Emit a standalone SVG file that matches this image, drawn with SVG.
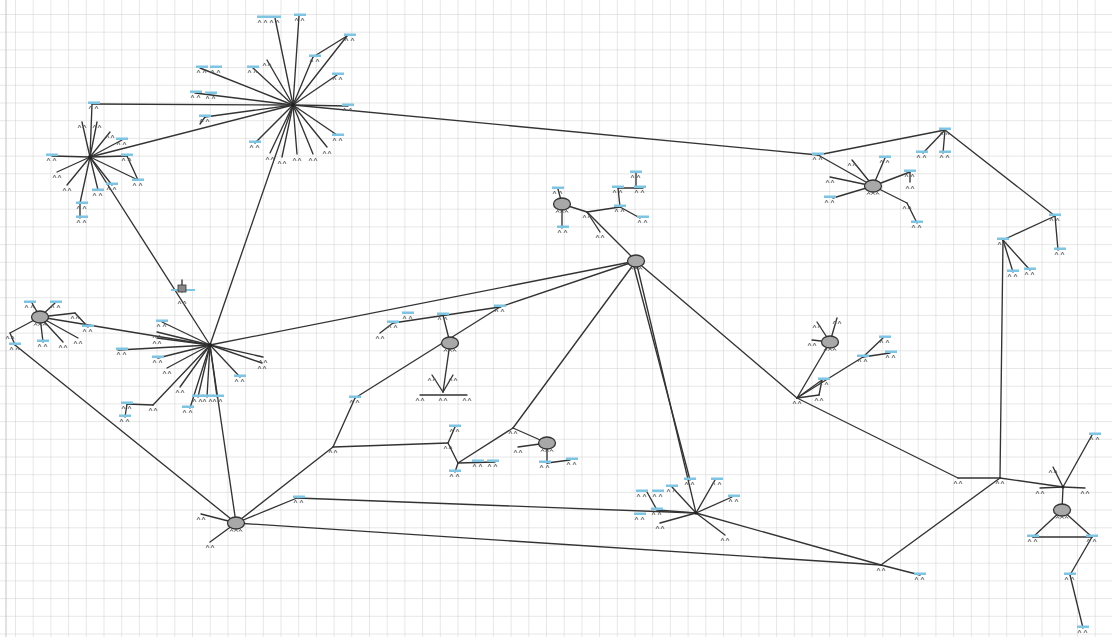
<svg xmlns="http://www.w3.org/2000/svg" xmlns:xlink="http://www.w3.org/1999/xlink" width="1112" height="637" viewBox="0 0 1112 637">
<style>
.c line{stroke:#333333;stroke-width:1.35;stroke-linecap:round}
.hub{fill:#222}
</style>
<defs>
<pattern id="grid" x="15" y="14" width="17.7" height="17.7" patternUnits="userSpaceOnUse">
<path d="M0,0H17.7M0,0V17.7" stroke="#cfcfcf" stroke-width="1" fill="none"/>
</pattern>
<g id="lf"><rect x="-6" y="-1.5" width="12" height="2.5" fill="#7fc4e2"/><path d="M-5,6l1.5-3 1.5,3M1,6l1.5-3 1.5,3" stroke="#555" stroke-width="0.8" fill="none"/></g>
<g id="mk"><path d="M-4,4l1.5-3 1.5,3M1,4l1.5-3 1.5,3" stroke="#555" stroke-width="0.8" fill="none"/></g>
<g id="cl"><ellipse rx="8.5" ry="6" fill="#a8a8a8" stroke="#333" stroke-width="1.3"/><path d="M-6,8.5l1.5-2 1.5,2M-1.5,8.5l1.5-2 1.5,2M3,8.5l1.5-2 1.5,2" stroke="#444" stroke-width="0.9" fill="none"/></g>
</defs>
<rect width="1112" height="637" fill="#ffffff"/>
<rect width="1112" height="637" fill="url(#grid)"/>
<line x1="6" y1="0" x2="6" y2="637" stroke="#c4c4c4"/>
<g id="connectors" class="c">
<line x1="293" y1="105" x2="818" y2="155"/>
<line x1="818" y1="155" x2="945" y2="130"/>
<line x1="945" y1="130" x2="1055" y2="216"/>
<line x1="1055" y1="216" x2="1003" y2="240"/>
<line x1="1003" y1="240" x2="1000" y2="478"/>
<line x1="1000" y1="478" x2="1063" y2="487"/>
<line x1="958" y1="478" x2="1000" y2="478"/>
<line x1="797" y1="398" x2="958" y2="478"/>
<line x1="1000" y1="478" x2="881" y2="565"/>
<line x1="881" y1="565" x2="236" y2="523"/>
<line x1="881" y1="565" x2="696" y2="513"/>
<line x1="696" y1="513" x2="297" y2="498"/>
<line x1="236" y1="523" x2="297" y2="498"/>
<line x1="236" y1="523" x2="210" y2="345"/>
<line x1="236" y1="523" x2="15" y2="345"/>
<line x1="236" y1="523" x2="333" y2="447"/>
<line x1="333" y1="447" x2="355" y2="398"/>
<line x1="333" y1="447" x2="448" y2="443"/>
<line x1="355" y1="398" x2="500" y2="307"/>
<line x1="500" y1="307" x2="636" y2="261"/>
<line x1="500" y1="307" x2="393" y2="323"/>
<line x1="210" y1="345" x2="636" y2="261"/>
<line x1="210" y1="345" x2="293" y2="105"/>
<line x1="210" y1="345" x2="90" y2="157"/>
<line x1="210" y1="345" x2="40" y2="317"/>
<line x1="293" y1="105" x2="90" y2="157"/>
<line x1="293" y1="105" x2="92" y2="104"/>
<line x1="636" y1="261" x2="797" y2="398"/>
<line x1="636" y1="261" x2="696" y2="513"/>
<line x1="633" y1="263" x2="690" y2="480"/>
<line x1="636" y1="261" x2="513" y2="428"/>
<line x1="513" y1="428" x2="547" y2="443"/>
<line x1="513" y1="428" x2="458" y2="463"/>
<line x1="636" y1="261" x2="587" y2="212"/>
<line x1="587" y1="212" x2="562" y2="204"/>
<line x1="587" y1="212" x2="620" y2="207"/>
<line x1="587" y1="212" x2="600" y2="232"/>
<line x1="797" y1="398" x2="830" y2="342"/>
<line x1="1063" y1="487" x2="1062" y2="510"/>
<line x1="1062" y1="510" x2="1033" y2="537"/>
<line x1="1062" y1="510" x2="1092" y2="537"/>
<line x1="1033" y1="537" x2="1092" y2="537"/>
<line x1="1092" y1="537" x2="1070" y2="575"/>
<line x1="1070" y1="575" x2="1083" y2="628"/>
<line x1="881" y1="565" x2="920" y2="575"/>
<line x1="450" y1="343" x2="443" y2="315"/>
<line x1="450" y1="343" x2="443" y2="392"/>
<line x1="818" y1="155" x2="873" y2="186"/>
<line x1="945" y1="130" x2="923" y2="153"/>
<line x1="945" y1="130" x2="943" y2="153"/>
<line x1="1003" y1="240" x2="1013" y2="272"/>
<line x1="1003" y1="240" x2="1030" y2="270"/>
<line x1="1055" y1="216" x2="1058" y2="250"/>
<line x1="293" y1="105" x2="275" y2="18"/>
<line x1="293" y1="105" x2="299" y2="16"/>
<line x1="293" y1="105" x2="347" y2="36"/>
<line x1="293" y1="105" x2="313" y2="57"/>
<line x1="313" y1="57" x2="347" y2="36"/>
<line x1="293" y1="105" x2="337" y2="75"/>
<line x1="293" y1="105" x2="348" y2="106"/>
<line x1="293" y1="105" x2="337" y2="135"/>
<line x1="293" y1="105" x2="327" y2="147"/>
<line x1="293" y1="105" x2="313" y2="154"/>
<line x1="293" y1="105" x2="297" y2="154"/>
<line x1="293" y1="105" x2="282" y2="157"/>
<line x1="293" y1="105" x2="270" y2="153"/>
<line x1="293" y1="105" x2="255" y2="143"/>
<line x1="293" y1="105" x2="205" y2="117"/>
<line x1="205" y1="117" x2="200" y2="124"/>
<line x1="293" y1="105" x2="195" y2="93"/>
<line x1="293" y1="105" x2="200" y2="68"/>
<line x1="293" y1="105" x2="253" y2="68"/>
<line x1="293" y1="105" x2="267" y2="60"/>
<line x1="90" y1="157" x2="92" y2="104"/>
<line x1="90" y1="157" x2="82" y2="122"/>
<line x1="90" y1="157" x2="97" y2="122"/>
<line x1="90" y1="157" x2="110" y2="132"/>
<line x1="90" y1="157" x2="122" y2="140"/>
<line x1="90" y1="157" x2="52" y2="156"/>
<line x1="90" y1="157" x2="127" y2="156"/>
<line x1="90" y1="157" x2="138" y2="180"/>
<line x1="127" y1="156" x2="138" y2="180"/>
<line x1="90" y1="157" x2="57" y2="172"/>
<line x1="90" y1="157" x2="67" y2="185"/>
<line x1="90" y1="157" x2="80" y2="203"/>
<line x1="80" y1="203" x2="80" y2="218"/>
<line x1="90" y1="157" x2="98" y2="190"/>
<line x1="90" y1="157" x2="112" y2="185"/>
<line x1="210" y1="345" x2="162" y2="322"/>
<line x1="210" y1="345" x2="157" y2="332"/>
<line x1="210" y1="345" x2="157" y2="338"/>
<line x1="210" y1="345" x2="118" y2="350"/>
<line x1="210" y1="345" x2="158" y2="358"/>
<line x1="210" y1="345" x2="167" y2="368"/>
<line x1="210" y1="345" x2="180" y2="387"/>
<line x1="210" y1="345" x2="153" y2="405"/>
<line x1="153" y1="405" x2="127" y2="404"/>
<line x1="127" y1="404" x2="125" y2="417"/>
<line x1="210" y1="345" x2="198" y2="397"/>
<line x1="210" y1="345" x2="207" y2="397"/>
<line x1="210" y1="345" x2="217" y2="397"/>
<line x1="210" y1="345" x2="190" y2="408"/>
<line x1="210" y1="345" x2="263" y2="357"/>
<line x1="210" y1="345" x2="262" y2="363"/>
<line x1="210" y1="345" x2="240" y2="377"/>
<line x1="182" y1="280" x2="182" y2="292"/>
<line x1="40" y1="317" x2="32" y2="303"/>
<line x1="40" y1="317" x2="55" y2="303"/>
<line x1="40" y1="317" x2="75" y2="313"/>
<line x1="75" y1="313" x2="88" y2="327"/>
<line x1="40" y1="317" x2="43" y2="342"/>
<line x1="40" y1="317" x2="63" y2="342"/>
<line x1="40" y1="317" x2="78" y2="338"/>
<line x1="40" y1="317" x2="10" y2="333"/>
<line x1="10" y1="333" x2="15" y2="345"/>
<line x1="236" y1="523" x2="201" y2="514"/>
<line x1="236" y1="523" x2="210" y2="542"/>
<line x1="562" y1="204" x2="558" y2="189"/>
<line x1="562" y1="204" x2="562" y2="228"/>
<line x1="620" y1="207" x2="618" y2="188"/>
<line x1="618" y1="188" x2="643" y2="188"/>
<line x1="636" y1="188" x2="636" y2="173"/>
<line x1="620" y1="207" x2="640" y2="218"/>
<line x1="393" y1="323" x2="380" y2="333"/>
<line x1="420" y1="395" x2="467" y2="395"/>
<line x1="443" y1="392" x2="432" y2="375"/>
<line x1="443" y1="392" x2="453" y2="375"/>
<line x1="547" y1="443" x2="547" y2="463"/>
<line x1="547" y1="463" x2="570" y2="460"/>
<line x1="547" y1="443" x2="518" y2="447"/>
<line x1="458" y1="463" x2="448" y2="443"/>
<line x1="448" y1="443" x2="455" y2="427"/>
<line x1="458" y1="463" x2="495" y2="462"/>
<line x1="458" y1="463" x2="455" y2="472"/>
<line x1="696" y1="513" x2="672" y2="487"/>
<line x1="696" y1="513" x2="715" y2="480"/>
<line x1="696" y1="513" x2="732" y2="497"/>
<line x1="696" y1="513" x2="725" y2="535"/>
<line x1="696" y1="513" x2="660" y2="523"/>
<line x1="696" y1="513" x2="657" y2="510"/>
<line x1="657" y1="510" x2="647" y2="492"/>
<line x1="873" y1="186" x2="852" y2="160"/>
<line x1="873" y1="186" x2="885" y2="158"/>
<line x1="873" y1="186" x2="910" y2="172"/>
<line x1="910" y1="172" x2="910" y2="182"/>
<line x1="873" y1="186" x2="830" y2="177"/>
<line x1="873" y1="186" x2="833" y2="198"/>
<line x1="873" y1="186" x2="907" y2="203"/>
<line x1="907" y1="203" x2="917" y2="223"/>
<line x1="830" y1="342" x2="817" y2="322"/>
<line x1="830" y1="342" x2="837" y2="318"/>
<line x1="830" y1="342" x2="812" y2="340"/>
<line x1="797" y1="398" x2="863" y2="357"/>
<line x1="863" y1="357" x2="883" y2="338"/>
<line x1="863" y1="357" x2="890" y2="353"/>
<line x1="797" y1="398" x2="822" y2="380"/>
<line x1="822" y1="380" x2="819" y2="395"/>
<line x1="797" y1="398" x2="819" y2="395"/>
<line x1="1063" y1="487" x2="1053" y2="467"/>
<line x1="1063" y1="487" x2="1092" y2="435"/>
<line x1="1063" y1="487" x2="1040" y2="488"/>
<line x1="1063" y1="487" x2="1085" y2="488"/>
</g>
<g id="hub-A"><circle class="hub" cx="293" cy="105" r="2"/></g>
<g id="hub-B"><circle class="hub" cx="90" cy="157" r="2"/></g>
<g id="hub-C"><circle class="hub" cx="210" cy="345" r="2"/></g>
<g id="hub-M"><circle class="hub" cx="696" cy="513" r="1.8"/></g>
<g id="hub-LS"><circle class="hub" cx="1063" cy="487" r="1.5"/></g>
<g id="cloud-D"><use href="#cl" x="40" y="317"/></g>
<g id="cloud-E"><use href="#cl" x="236" y="523"/></g>
<g id="cloud-F"><use href="#cl" x="636" y="261"/></g>
<g id="cloud-G"><use href="#cl" x="562" y="204"/></g>
<g id="cloud-H"><use href="#cl" x="450" y="343"/></g>
<g id="cloud-I"><use href="#cl" x="547" y="443"/></g>
<g id="cloud-J"><use href="#cl" x="873" y="186"/></g>
<g id="cloud-K"><use href="#cl" x="830" y="342"/></g>
<g id="cloud-L"><use href="#cl" x="1062" y="510"/></g>
<g id="switch-SW"><rect x="171" y="289" width="24" height="2" fill="#7fc4e2"/><rect x="178" y="285" width="8" height="7" fill="#888" stroke="#333" stroke-width="0.8"/><use href="#mk" x="182" y="300"/></g>
<g id="leaves-A">
<use href="#lf" x="275" y="17"/><use href="#lf" x="263" y="17"/><use href="#lf" x="300" y="15"/>
<use href="#lf" x="350" y="35"/><use href="#lf" x="315" y="56"/><use href="#lf" x="338" y="74"/>
<use href="#lf" x="348" y="105"/><use href="#lf" x="338" y="135"/><use href="#mk" x="327" y="150"/>
<use href="#mk" x="313" y="157"/><use href="#mk" x="297" y="157"/><use href="#mk" x="282" y="160"/>
<use href="#mk" x="270" y="156"/><use href="#lf" x="255" y="142"/><use href="#lf" x="205" y="116"/>
<use href="#lf" x="196" y="92"/><use href="#lf" x="211" y="93"/><use href="#lf" x="202" y="67"/><use href="#lf" x="216" y="67"/>
<use href="#lf" x="253" y="67"/><use href="#mk" x="267" y="62"/>
</g>
<g id="leaves-B">
<use href="#lf" x="94" y="103"/><use href="#mk" x="82" y="124"/><use href="#mk" x="97" y="124"/>
<use href="#mk" x="110" y="134"/><use href="#lf" x="122" y="139"/><use href="#lf" x="52" y="155"/>
<use href="#lf" x="127" y="155"/><use href="#lf" x="138" y="180"/><use href="#mk" x="57" y="174"/>
<use href="#mk" x="67" y="187"/><use href="#lf" x="82" y="203"/><use href="#lf" x="82" y="217"/>
<use href="#lf" x="98" y="190"/><use href="#lf" x="112" y="184"/>
</g>
<g id="leaves-C">
<use href="#lf" x="162" y="321"/><use href="#mk" x="157" y="334"/><use href="#mk" x="157" y="340"/>
<use href="#lf" x="122" y="349"/><use href="#lf" x="158" y="357"/><use href="#mk" x="167" y="370"/>
<use href="#mk" x="180" y="389"/><use href="#mk" x="153" y="407"/><use href="#lf" x="127" y="403"/>
<use href="#lf" x="125" y="416"/><use href="#lf" x="198" y="396"/><use href="#lf" x="208" y="396"/><use href="#lf" x="218" y="396"/>
<use href="#lf" x="188" y="407"/><use href="#mk" x="263" y="359"/><use href="#mk" x="262" y="365"/><use href="#lf" x="240" y="376"/>
</g>
<g id="leaves-D">
<use href="#lf" x="30" y="302"/><use href="#lf" x="56" y="302"/><use href="#mk" x="75" y="315"/>
<use href="#lf" x="88" y="326"/><use href="#lf" x="43" y="341"/><use href="#mk" x="63" y="344"/>
<use href="#mk" x="78" y="340"/><use href="#mk" x="10" y="335"/><use href="#lf" x="15" y="344"/>
</g>
<g id="leaves-E">
<use href="#lf" x="299" y="497"/><use href="#mk" x="201" y="516"/><use href="#mk" x="210" y="544"/>
<use href="#mk" x="333" y="449"/><use href="#lf" x="355" y="397"/>
</g>
<g id="leaves-G">
<use href="#lf" x="558" y="188"/><use href="#lf" x="563" y="227"/><use href="#mk" x="587" y="214"/>
<use href="#mk" x="600" y="234"/><use href="#lf" x="620" y="206"/><use href="#lf" x="618" y="187"/>
<use href="#lf" x="640" y="187"/><use href="#lf" x="636" y="172"/><use href="#lf" x="643" y="217"/>
</g>
<g id="leaves-H">
<use href="#lf" x="393" y="322"/><use href="#lf" x="408" y="313"/><use href="#lf" x="443" y="314"/>
<use href="#lf" x="500" y="306"/><use href="#mk" x="380" y="335"/><use href="#mk" x="420" y="397"/>
<use href="#mk" x="443" y="397"/><use href="#mk" x="467" y="397"/><use href="#mk" x="432" y="377"/><use href="#mk" x="453" y="377"/>
</g>
<g id="leaves-I">
<use href="#lf" x="545" y="462"/><use href="#lf" x="572" y="459"/><use href="#mk" x="518" y="449"/>
<use href="#mk" x="513" y="430"/><use href="#lf" x="455" y="426"/><use href="#mk" x="448" y="445"/>
<use href="#lf" x="478" y="461"/><use href="#lf" x="493" y="461"/><use href="#lf" x="455" y="471"/>
</g>
<g id="leaves-M">
<use href="#lf" x="672" y="486"/><use href="#lf" x="690" y="479"/><use href="#lf" x="717" y="479"/>
<use href="#lf" x="734" y="496"/><use href="#mk" x="725" y="537"/><use href="#mk" x="660" y="525"/>
<use href="#lf" x="657" y="509"/><use href="#lf" x="642" y="491"/><use href="#lf" x="658" y="491"/>
<use href="#lf" x="640" y="514"/>
</g>
<g id="leaves-J">
<use href="#lf" x="818" y="154"/><use href="#mk" x="852" y="162"/><use href="#lf" x="885" y="157"/>
<use href="#lf" x="910" y="171"/><use href="#mk" x="910" y="185"/><use href="#mk" x="830" y="179"/>
<use href="#lf" x="830" y="197"/><use href="#mk" x="907" y="205"/><use href="#lf" x="917" y="222"/>
<use href="#lf" x="945" y="129"/><use href="#lf" x="922" y="152"/><use href="#lf" x="945" y="152"/>
</g>
<g id="leaves-K">
<use href="#mk" x="817" y="324"/><use href="#mk" x="837" y="320"/><use href="#mk" x="812" y="342"/>
<use href="#mk" x="797" y="400"/><use href="#lf" x="863" y="356"/><use href="#lf" x="885" y="337"/>
<use href="#lf" x="891" y="352"/><use href="#lf" x="824" y="379"/><use href="#mk" x="819" y="397"/>
</g>
<g id="leaves-R">
<use href="#mk" x="958" y="480"/><use href="#mk" x="1000" y="480"/><use href="#lf" x="1003" y="239"/>
<use href="#lf" x="1055" y="215"/><use href="#lf" x="1060" y="249"/><use href="#lf" x="1013" y="271"/><use href="#lf" x="1030" y="269"/>
<use href="#mk" x="881" y="567"/><use href="#lf" x="920" y="574"/>
</g>
<g id="leaves-L">
<use href="#mk" x="1053" y="469"/><use href="#lf" x="1095" y="434"/><use href="#mk" x="1040" y="490"/>
<use href="#mk" x="1085" y="490"/><use href="#lf" x="1033" y="536"/><use href="#lf" x="1092" y="536"/>
<use href="#lf" x="1070" y="574"/><use href="#lf" x="1083" y="627"/>
</g>
</svg>
